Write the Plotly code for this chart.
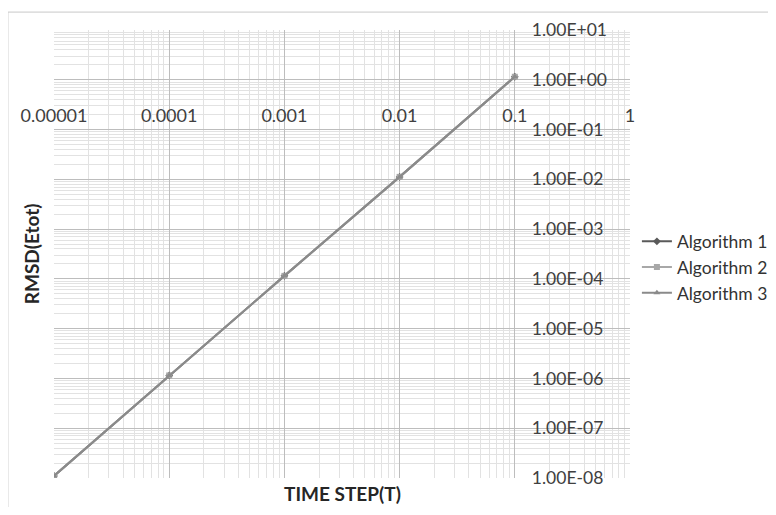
import plotly.graph_objects as go

time_step = [0.00001, 0.0001, 0.001, 0.01, 0.1]
alg1 = [1.1e-8, 1.15e-6, 1.15e-4, 1.12e-2, 1.15]
alg2 = [1.1e-8, 1.15e-6, 1.15e-4, 1.12e-2, 1.15]
alg3 = [1.1e-8, 1.15e-6, 1.15e-4, 1.12e-2, 1.15]
series_names = ["Algorithm 1", "Algorithm 2", "Algorithm 3"]
series_colors = ["#5a5a5a", "#a8a8a8", "#8a8a8a"]
series_symbols = ["diamond", "square", "triangle-up"]

x_tickvals = [0.00001, 0.0001, 0.001, 0.01, 0.1, 1]
x_ticktext = ["0.00001", "0.0001", "0.001", "0.01", "0.1", "1"]
y_tickvals = [1e1, 1e0, 1e-1, 1e-2, 1e-3, 1e-4, 1e-5, 1e-6, 1e-7, 1e-8]
y_ticktext = ["1.00E+01", "1.00E+00", "1.00E-01", "1.00E-02", "1.00E-03",
              "1.00E-04", "1.00E-05", "1.00E-06", "1.00E-07", "1.00E-08"]

FONT = "Lato, 'Liberation Sans', sans-serif"

fig = go.Figure()
for name, ys, col, sym in zip(series_names, [alg1, alg2, alg3], series_colors, series_symbols):
    fig.add_trace(go.Scatter(
        x=time_step, y=ys, name=name, mode="lines+markers",
        line=dict(color=col, width=2),
        marker=dict(symbol=sym, size=6, color=col),
    ))

grid_major = "#bdbdbd"
grid_minor = "#e2e2e2"

fig.update_layout(
    width=760, height=499,
    margin=dict(l=46, r=138, t=22, b=29, autoexpand=False),
    paper_bgcolor="white", plot_bgcolor="white",
    font=dict(family=FONT, size=17, color="#404040"),
    xaxis=dict(
        type="log", range=[-5, 0],
        tickvals=x_tickvals, ticktext=x_ticktext,
        showgrid=True, gridcolor=grid_major, gridwidth=1,
        minor=dict(dtick="D1", showgrid=True, gridcolor=grid_minor, ticks=""),
        anchor="free", position=0.836, side="bottom",
        showline=False, zeroline=False, ticks="",
        tickfont=dict(size=18, color="#404040"),
        automargin=False,
    ),
    yaxis=dict(
        type="log", range=[-8, 1],
        tickvals=y_tickvals, ticktext=y_ticktext,
        showgrid=True, gridcolor=grid_major, gridwidth=1,
        minor=dict(dtick="D1", showgrid=True, gridcolor=grid_minor, ticks=""),
        anchor="free", position=0.8, side="right",
        showline=False, zeroline=False, ticks="", ticklabelstandoff=16,
        tickfont=dict(size=17.5, color="#404040"),
        automargin=False,
    ),
    legend=dict(
        x=1.012, xanchor="left", y=0.47, yanchor="middle",
        bgcolor="rgba(0,0,0,0)", font=dict(size=17.5, color="#333333"),
        itemwidth=30, tracegroupgap=0,
    ),
    showlegend=True,
    annotations=[
        dict(text="<b>TIME STEP(T)</b>", xref="paper", yref="paper",
             x=0.5, y=-0.004, xanchor="center", yanchor="top",
             showarrow=False, font=dict(size=19, color="#262626")),
        dict(text="<b>RMSD(Etot)</b>", xref="paper", yref="paper",
             x=-0.016, y=0.5, xanchor="right", yanchor="middle", textangle=-90,
             showarrow=False, font=dict(size=19, color="#262626")),
    ],
    shapes=[
        dict(type="rect", xref="paper", yref="paper",
             x0=-0.08, x1=1.3, y0=-0.071, y1=1.04,
             line=dict(color="#c8c8c8", width=1), fillcolor="rgba(0,0,0,0)",
             layer="below"),
    ],
)

fig.write_html("out.html")
